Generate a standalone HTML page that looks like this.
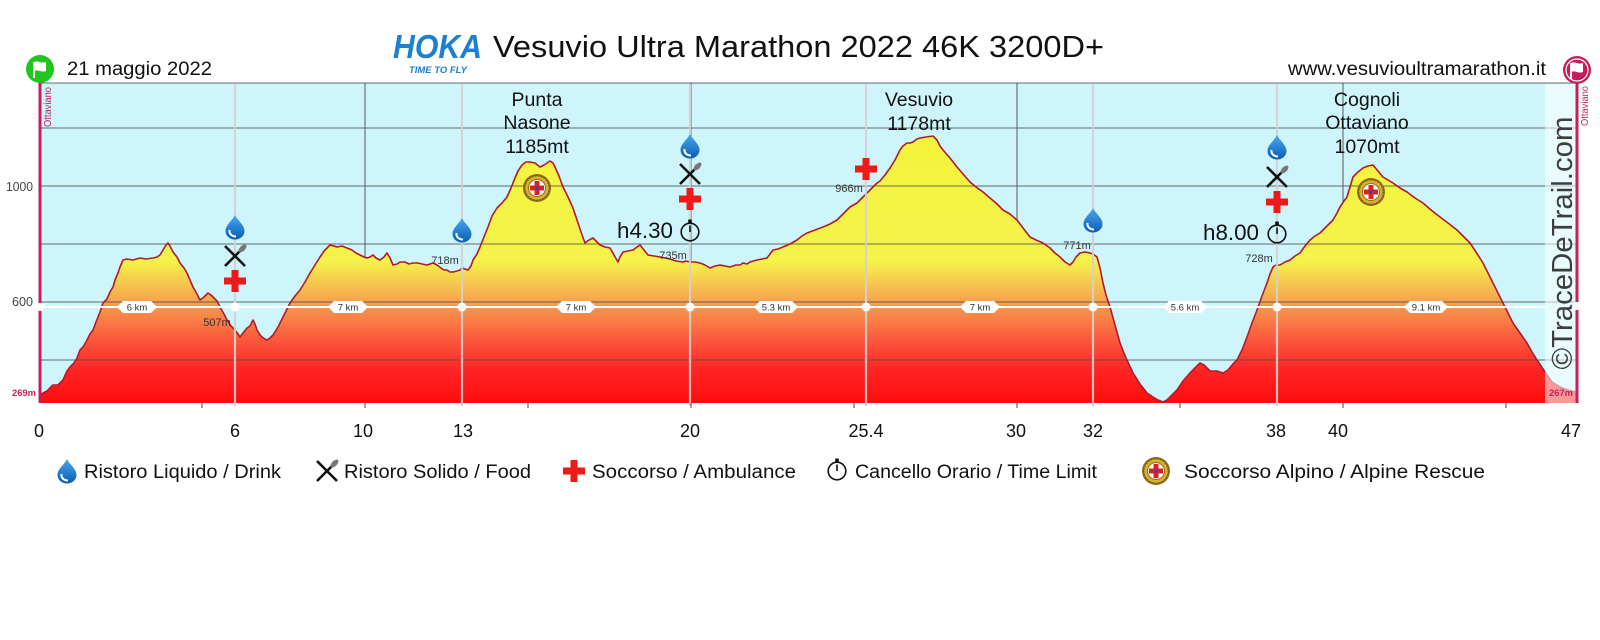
<!DOCTYPE html>
<html>
<head>
<meta charset="utf-8">
<style>
html,body{margin:0;padding:0;background:#fff;}
svg{display:block;}
text{font-family:"Liberation Sans",Arial,sans-serif;}
</style>
</head>
<body>
<svg width="1600" height="640" viewBox="0 0 1600 640" xmlns="http://www.w3.org/2000/svg">
<defs>
  <linearGradient id="fillg" gradientUnits="userSpaceOnUse" x1="0" y1="130" x2="0" y2="403">
    <stop offset="0" stop-color="#f4f43c"/>
    <stop offset="0.48" stop-color="#f5f34a"/>
    <stop offset="0.62" stop-color="#f7a64f"/>
    <stop offset="0.76" stop-color="#fb5c3e"/>
    <stop offset="0.88" stop-color="#ff2424"/>
    <stop offset="1" stop-color="#ff0c0c"/>
  </linearGradient>
  <linearGradient id="dropg" x1="0" y1="0" x2="0" y2="1">
    <stop offset="0" stop-color="#4aa8ec"/>
    <stop offset="1" stop-color="#0a5db5"/>
  </linearGradient>
  <g id="drop">
    <path d="M0,-12 C3,-6 9.5,-2 9.5,4 C9.5,9 5,12.5 0,12.5 C-5,12.5 -9.5,9 -9.5,4 C-9.5,-2 -3,-6 0,-12 Z" fill="url(#dropg)"/>
    <path d="M-5.5,3 C-6,7 -3,9.5 1,9.5" fill="none" stroke="#fff" stroke-width="2"/>
  </g>
  <g id="food">
    <line x1="-10" y1="-10" x2="10" y2="10" stroke="#111" stroke-width="2.6"/>
    <line x1="-10" y1="10" x2="5" y2="-5" stroke="#111" stroke-width="2.6"/>
    <ellipse cx="7.5" cy="-7.5" rx="2.6" ry="5" transform="rotate(45 7.5 -7.5)" fill="#777"/>
  </g>
  <g id="cross">
    <rect x="-11" y="-3.5" width="22" height="7" fill="#ee1a1a"/>
    <rect x="-3.5" y="-11" width="7" height="22" fill="#ee1a1a"/>
  </g>
  <g id="watch">
    <circle cx="0" cy="2" r="8.8" fill="none" stroke="#111" stroke-width="1.6"/>
    <rect x="-1.8" y="-10.5" width="3.6" height="3.5" fill="#111"/>
    <line x1="0" y1="2" x2="0" y2="-4.5" stroke="#111" stroke-width="1.6"/>
  </g>
  <g id="badge">
    <circle r="14" fill="#8a6a14"/>
    <circle r="12" fill="#d6b032"/>
    <circle r="12" fill="none" stroke="#7a5a10" stroke-width="1" stroke-dasharray="1.5 1.5"/>
    <circle r="8.5" fill="#fff" stroke="#9a7010" stroke-width="1"/>
    <rect x="-7" y="-2.5" width="14" height="5" fill="#e02020"/>
    <rect x="-2.5" y="-7" width="5" height="14" fill="#e02020"/>
    <path d="M-2.5,-1.5 L2.5,-1.5 L0,3 Z" fill="#2a4aa8"/>
  </g>
  <g id="hex">
    <polygon points="-20,0 -14,-6 14,-6 20,0 14,6 -14,6" fill="#fff"/>
  </g>
  <g id="hexw">
    <polygon points="-22,0 -16,-6 16,-6 22,0 16,6 -16,6" fill="#fff"/>
  </g>
</defs>

<rect x="0" y="0" width="1600" height="640" fill="#fff"/>

<!-- sky -->
<rect x="40" y="83" width="1536" height="320" fill="#cdf5fb"/>

<!-- vertical dark grid (behind fill) -->
<g stroke="#5a5a5a" stroke-width="1">
  <line x1="365" y1="83" x2="365" y2="403"/>
  <line x1="691" y1="83" x2="691" y2="403"/>
  <line x1="1017" y1="83" x2="1017" y2="403"/>
  <line x1="1343" y1="83" x2="1343" y2="403"/>
</g>

<!-- profile fill -->
<path fill="url(#fillg)" d="M40,396 L43,393 L47,391 L50,388 L53,385 L58,385 L60,383 L63,380 L67,371 L70,367 L74,363 L77,358 L80,350 L83,347 L86,342 L88,338 L90,334 L93,330 L96,322 L100,312 L103,303 L107,299 L110,292 L113,287 L115,280 L118,273 L120,267 L123,260 L127,259 L133,260 L140,258 L146,259 L153,258 L157,257 L160,255 L163,250 L166,245 L168,243 L170,246 L173,252 L177,257 L180,263 L184,268 L187,273 L190,280 L193,287 L197,294 L200,300 L204,297 L208,293 L211,295 L213,297 L217,301 L220,307 L224,314 L227,320 L231,326 L235,330 L238,334 L240,337 L243,333 L247,328 L250,326 L253,320 L255,324 L257,330 L260,335 L262,337 L265,339 L267,340 L270,338 L273,335 L278,327 L283,317 L287,309 L290,303 L295,296 L300,290 L305,282 L310,273 L315,265 L320,257 L325,250 L330,245 L334,246 L337,247 L342,246 L347,248 L352,250 L356,253 L360,255 L364,257 L367,258 L370,257 L373,255 L376,258 L380,260 L384,257 L387,253 L390,258 L393,265 L397,264 L400,262 L405,262 L409,264 L413,263 L418,263 L422,264 L427,265 L430,264 L433,263 L437,265 L441,268 L444,270 L447,270 L450,272 L453,272 L457,271 L460,270 L462,268 L465,269 L468,270 L471,266 L473,260 L477,254 L480,247 L484,237 L488,227 L492,216 L497,208 L502,203 L507,197 L511,188 L515,178 L518,171 L522,165 L526,162 L530,162 L535,163 L540,167 L544,165 L547,163 L550,161 L553,163 L555,167 L559,176 L563,187 L568,197 L573,208 L577,220 L581,232 L585,243 L589,240 L593,238 L597,242 L600,245 L605,247 L610,248 L614,255 L618,262 L620,257 L623,252 L628,251 L633,250 L637,247 L640,245 L644,250 L648,255 L654,256 L660,257 L665,258 L670,259 L676,261 L683,262 L686,261 L690,262 L695,262 L700,263 L705,265 L710,268 L715,266 L720,265 L725,266 L730,267 L736,265 L740,265 L743,263 L747,264 L750,262 L757,260 L762,259 L767,258 L770,254 L773,250 L778,249 L783,247 L790,244 L797,240 L802,236 L807,233 L815,230 L823,227 L830,224 L837,220 L843,214 L850,207 L857,203 L863,197 L867,193 L870,190 L873,187 L877,183 L880,181 L885,175 L890,168 L895,160 L900,150 L903,146 L907,143 L910,143 L913,142 L917,139 L920,138 L926,137 L933,136 L937,140 L940,146 L943,150 L950,158 L957,167 L963,174 L970,182 L976,187 L983,192 L990,198 L996,203 L1003,210 L1010,214 L1017,220 L1023,228 L1030,237 L1036,240 L1043,243 L1050,248 L1055,253 L1060,257 L1065,262 L1070,265 L1073,262 L1076,257 L1080,253 L1085,252 L1090,253 L1093,254 L1097,257 L1100,268 L1103,283 L1106,295 L1110,307 L1115,325 L1120,343 L1126,358 L1133,373 L1140,384 L1147,393 L1153,397 L1158,400 L1163,402 L1167,400 L1172,395 L1177,390 L1183,381 L1190,373 L1195,368 L1200,363 L1204,365 L1210,371 L1217,371 L1223,373 L1228,370 L1233,364 L1237,360 L1242,350 L1247,337 L1252,323 L1257,310 L1262,296 L1267,283 L1270,274 L1273,267 L1276,265 L1280,265 L1285,262 L1290,260 L1295,256 L1300,253 L1305,246 L1310,240 L1315,236 L1320,233 L1327,226 L1333,220 L1337,213 L1340,207 L1344,201 L1347,197 L1350,187 L1353,177 L1358,172 L1363,168 L1368,166 L1373,165 L1378,171 L1383,177 L1388,180 L1393,183 L1400,188 L1407,192 L1415,198 L1423,203 L1431,210 L1440,217 L1448,223 L1457,230 L1463,236 L1470,243 L1476,252 L1483,263 L1490,277 L1500,297 L1506,309 L1513,323 L1520,333 L1527,343 L1532,352 L1537,360 L1541,366 L1545,372 L1545,403 L40,403 Z"/>
<path d="M1545,372 L1552,382 L1560,387 L1568,390 L1576,392 L1576,403 L1545,403 Z" fill="#ff1a1a"/>

<!-- horizontal grid (over fill) -->
<g stroke="#4a4a4a" stroke-width="1" opacity="0.8">
  <line x1="40" y1="83" x2="1576" y2="83"/>
  <line x1="40" y1="128" x2="1576" y2="128"/>
  <line x1="40" y1="186" x2="1576" y2="186"/>
  <line x1="40" y1="244" x2="1576" y2="244"/>
  <line x1="40" y1="302" x2="1576" y2="302"/>
  <line x1="40" y1="360" x2="1576" y2="360"/>
</g>

<!-- profile line -->
<path d="M40,396 L43,393 L47,391 L50,388 L53,385 L58,385 L60,383 L63,380 L67,371 L70,367 L74,363 L77,358 L80,350 L83,347 L86,342 L88,338 L90,334 L93,330 L96,322 L100,312 L103,303 L107,299 L110,292 L113,287 L115,280 L118,273 L120,267 L123,260 L127,259 L133,260 L140,258 L146,259 L153,258 L157,257 L160,255 L163,250 L166,245 L168,243 L170,246 L173,252 L177,257 L180,263 L184,268 L187,273 L190,280 L193,287 L197,294 L200,300 L204,297 L208,293 L211,295 L213,297 L217,301 L220,307 L224,314 L227,320 L231,326 L235,330 L238,334 L240,337 L243,333 L247,328 L250,326 L253,320 L255,324 L257,330 L260,335 L262,337 L265,339 L267,340 L270,338 L273,335 L278,327 L283,317 L287,309 L290,303 L295,296 L300,290 L305,282 L310,273 L315,265 L320,257 L325,250 L330,245 L334,246 L337,247 L342,246 L347,248 L352,250 L356,253 L360,255 L364,257 L367,258 L370,257 L373,255 L376,258 L380,260 L384,257 L387,253 L390,258 L393,265 L397,264 L400,262 L405,262 L409,264 L413,263 L418,263 L422,264 L427,265 L430,264 L433,263 L437,265 L441,268 L444,270 L447,270 L450,272 L453,272 L457,271 L460,270 L462,268 L465,269 L468,270 L471,266 L473,260 L477,254 L480,247 L484,237 L488,227 L492,216 L497,208 L502,203 L507,197 L511,188 L515,178 L518,171 L522,165 L526,162 L530,162 L535,163 L540,167 L544,165 L547,163 L550,161 L553,163 L555,167 L559,176 L563,187 L568,197 L573,208 L577,220 L581,232 L585,243 L589,240 L593,238 L597,242 L600,245 L605,247 L610,248 L614,255 L618,262 L620,257 L623,252 L628,251 L633,250 L637,247 L640,245 L644,250 L648,255 L654,256 L660,257 L665,258 L670,259 L676,261 L683,262 L686,261 L690,262 L695,262 L700,263 L705,265 L710,268 L715,266 L720,265 L725,266 L730,267 L736,265 L740,265 L743,263 L747,264 L750,262 L757,260 L762,259 L767,258 L770,254 L773,250 L778,249 L783,247 L790,244 L797,240 L802,236 L807,233 L815,230 L823,227 L830,224 L837,220 L843,214 L850,207 L857,203 L863,197 L867,193 L870,190 L873,187 L877,183 L880,181 L885,175 L890,168 L895,160 L900,150 L903,146 L907,143 L910,143 L913,142 L917,139 L920,138 L926,137 L933,136 L937,140 L940,146 L943,150 L950,158 L957,167 L963,174 L970,182 L976,187 L983,192 L990,198 L996,203 L1003,210 L1010,214 L1017,220 L1023,228 L1030,237 L1036,240 L1043,243 L1050,248 L1055,253 L1060,257 L1065,262 L1070,265 L1073,262 L1076,257 L1080,253 L1085,252 L1090,253 L1093,254 L1097,257 L1100,268 L1103,283 L1106,295 L1110,307 L1115,325 L1120,343 L1126,358 L1133,373 L1140,384 L1147,393 L1153,397 L1158,400 L1163,402 L1167,400 L1172,395 L1177,390 L1183,381 L1190,373 L1195,368 L1200,363 L1204,365 L1210,371 L1217,371 L1223,373 L1228,370 L1233,364 L1237,360 L1242,350 L1247,337 L1252,323 L1257,310 L1262,296 L1267,283 L1270,274 L1273,267 L1276,265 L1280,265 L1285,262 L1290,260 L1295,256 L1300,253 L1305,246 L1310,240 L1315,236 L1320,233 L1327,226 L1333,220 L1337,213 L1340,207 L1344,201 L1347,197 L1350,187 L1353,177 L1358,172 L1363,168 L1368,166 L1373,165 L1378,171 L1383,177 L1388,180 L1393,183 L1400,188 L1407,192 L1415,198 L1423,203 L1431,210 L1440,217 L1448,223 L1457,230 L1463,236 L1470,243 L1476,252 L1483,263 L1490,277 L1500,297 L1506,309 L1513,323 L1520,333 L1527,343 L1532,352 L1537,360 L1541,366 L1545,372 L1552,382 L1560,387 L1568,390 L1576,392" fill="none" stroke="#b01a2e" stroke-width="1.6" stroke-linejoin="round"/>

<!-- pale overlay after finish -->
<rect x="1545" y="84" width="31" height="319" fill="#ffffff" opacity="0.55"/>

<!-- checkpoint vertical lines -->
<g stroke="#d2d2d2" stroke-width="2.2" opacity="0.9">
  <line x1="235" y1="84" x2="235" y2="406"/>
  <line x1="462" y1="84" x2="462" y2="406"/>
  <line x1="690" y1="84" x2="690" y2="406"/>
  <line x1="866" y1="84" x2="866" y2="406"/>
  <line x1="1093" y1="84" x2="1093" y2="406"/>
  <line x1="1277" y1="84" x2="1277" y2="406"/>
</g>

<!-- white distance line -->
<line x1="40" y1="307" x2="1545" y2="307" stroke="#fff" stroke-width="2"/>
<g fill="#fff">
  <circle cx="40" cy="307" r="4.5"/>
  <circle cx="235" cy="307" r="4.5"/>
  <circle cx="462" cy="307" r="4.5"/>
  <circle cx="690" cy="307" r="4.5"/>
  <circle cx="866" cy="307" r="4.5"/>
  <circle cx="1093" cy="307" r="4.5"/>
  <circle cx="1277" cy="307" r="4.5"/>
</g>
<use href="#hex" x="137" y="307"/>
<use href="#hex" x="348" y="307"/>
<use href="#hex" x="576" y="307"/>
<use href="#hexw" x="776" y="307"/>
<use href="#hex" x="980" y="307"/>
<use href="#hexw" x="1185" y="307"/>
<use href="#hexw" x="1426" y="307"/>
<g font-size="9.5" fill="#333" text-anchor="middle">
  <text x="137" y="310.5">6 km</text>
  <text x="348" y="310.5">7 km</text>
  <text x="576" y="310.5">7 km</text>
  <text x="776" y="310.5">5.3 km</text>
  <text x="980" y="310.5">7 km</text>
  <text x="1185" y="310.5">5.6 km</text>
  <text x="1426" y="310.5">9.1 km</text>
</g>

<!-- bottom ticks -->
<g stroke="#444" stroke-width="1">
  <line x1="202" y1="403" x2="202" y2="408"/>
  <line x1="365" y1="403" x2="365" y2="408"/>
  <line x1="528" y1="403" x2="528" y2="408"/>
  <line x1="691" y1="403" x2="691" y2="408"/>
  <line x1="854" y1="403" x2="854" y2="408"/>
  <line x1="1017" y1="403" x2="1017" y2="408"/>
  <line x1="1180" y1="403" x2="1180" y2="408"/>
  <line x1="1343" y1="403" x2="1343" y2="408"/>
  <line x1="1506" y1="403" x2="1506" y2="408"/>
</g>

<!-- crimson side lines -->
<line x1="40" y1="69" x2="40" y2="403" stroke="#c41f5c" stroke-width="3"/>
<line x1="1577" y1="69" x2="1577" y2="403" stroke="#c41f5c" stroke-width="3"/>
<circle cx="40" cy="307" r="4" fill="#fff"/>
<rect x="1574" y="302" width="6" height="8" fill="#fff"/>

<!-- flags -->
<circle cx="40" cy="69" r="14" fill="#22c51f"/>
<line x1="34" y1="62" x2="34" y2="78" stroke="#fff" stroke-width="1.8"/>
<path d="M34,62 C38,60 41,64 46,62 L46,71 C41,73 38,69 34,71 Z" fill="#fff"/>
<circle cx="1577" cy="70" r="14" fill="#c41f5c"/>
<circle cx="1577" cy="70" r="11" fill="none" stroke="#fff" stroke-width="1.2"/>
<line x1="1571" y1="63" x2="1571" y2="79" stroke="#fff" stroke-width="1.8"/>
<path d="M1571,63 C1575,61 1578,65 1583,63 L1583,72 C1578,74 1575,70 1571,72 Z" fill="#fff"/>

<!-- Ottaviano labels -->
<text transform="translate(51,127) rotate(-90)" font-size="10" fill="#c41f5c" textLength="40" lengthAdjust="spacingAndGlyphs">Ottaviano</text>
<text transform="translate(1588,126) rotate(-90)" font-size="10" fill="#c41f5c" textLength="40" lengthAdjust="spacingAndGlyphs">Ottaviano</text>

<!-- TraceDeTrail -->
<text transform="translate(1572,243) rotate(-90)" font-size="29" fill="#3d3d3d" text-anchor="middle" textLength="253" lengthAdjust="spacingAndGlyphs">©TraceDeTrail.com</text>

<!-- y labels -->
<g font-size="13" fill="#444">
  <text x="6" y="191" textLength="27" lengthAdjust="spacingAndGlyphs">1000</text>
  <text x="12" y="306" textLength="21" lengthAdjust="spacingAndGlyphs">600</text>
</g>
<text x="12" y="396" font-size="9.5" font-weight="bold" fill="#c41f5c" textLength="24" lengthAdjust="spacingAndGlyphs">269m</text>
<text x="1549" y="396" font-size="9.5" font-weight="bold" fill="#c41f5c" textLength="24" lengthAdjust="spacingAndGlyphs">267m</text>

<!-- small elevation labels -->
<g font-size="11" fill="#333" text-anchor="middle">
  <text x="217" y="326">507m</text>
  <text x="445" y="264">718m</text>
  <text x="673" y="259">735m</text>
  <text x="849" y="192">966m</text>
  <text x="1077" y="249">771m</text>
  <text x="1259" y="262">728m</text>
</g>

<!-- peak labels -->
<g font-size="19.5" fill="#111" text-anchor="middle">
  <text x="537" y="106">Punta</text>
  <text x="537" y="129">Nasone</text>
  <text x="537" y="153">1185mt</text>
  <text x="919" y="106">Vesuvio</text>
  <text x="919" y="130">1178mt</text>
  <text x="1367" y="106">Cognoli</text>
  <text x="1367" y="129">Ottaviano</text>
  <text x="1367" y="153">1070mt</text>
</g>

<!-- badges on peaks -->
<use href="#badge" x="537" y="188"/>
<use href="#badge" x="1371" y="192"/>

<!-- checkpoint icons -->
<use href="#drop" x="235" y="227"/>
<use href="#food" x="235" y="256"/>
<use href="#cross" x="235" y="281"/>

<use href="#drop" x="462" y="230"/>

<use href="#drop" x="690" y="146"/>
<use href="#food" x="690" y="174"/>
<use href="#cross" x="690" y="199"/>
<use href="#watch" x="690" y="230"/>
<text x="673" y="238" font-size="22" fill="#111" text-anchor="end" textLength="56" lengthAdjust="spacingAndGlyphs">h4.30</text>

<use href="#cross" x="866" y="169"/>

<use href="#drop" x="1093" y="220"/>

<use href="#drop" x="1277" y="147"/>
<use href="#food" x="1277" y="177"/>
<use href="#cross" x="1277" y="202"/>
<use href="#watch" x="1277" y="232"/>
<text x="1259" y="240" font-size="22" fill="#111" text-anchor="end" textLength="56" lengthAdjust="spacingAndGlyphs">h8.00</text>

<!-- x axis labels -->
<g font-size="18" fill="#111" text-anchor="middle">
  <text x="39" y="437">0</text>
  <text x="235" y="437">6</text>
  <text x="363" y="437">10</text>
  <text x="463" y="437">13</text>
  <text x="690" y="437">20</text>
  <text x="866" y="437">25.4</text>
  <text x="1016" y="437">30</text>
  <text x="1093" y="437">32</text>
  <text x="1276" y="437">38</text>
  <text x="1338" y="437">40</text>
  <text x="1571" y="437">47</text>
</g>

<!-- header -->
<text x="393" y="58" font-size="33" font-weight="bold" font-style="italic" fill="#1b7fd3" textLength="89" lengthAdjust="spacingAndGlyphs">HOKA</text>
<text x="409" y="73" font-size="9.5" font-weight="bold" font-style="italic" fill="#1b7fd3" textLength="58" lengthAdjust="spacingAndGlyphs">TIME TO FLY</text>
<text x="493" y="57" font-size="31" fill="#111" textLength="611" lengthAdjust="spacingAndGlyphs">Vesuvio Ultra Marathon 2022 46K 3200D+</text>
<text x="67" y="75" font-size="19" fill="#111" textLength="145" lengthAdjust="spacingAndGlyphs">21 maggio 2022</text>
<text x="1288" y="75" font-size="19" fill="#111" textLength="258" lengthAdjust="spacingAndGlyphs">www.vesuvioultramarathon.it</text>

<!-- legend -->
<use href="#drop" x="67" y="471"/>
<text x="84" y="478" font-size="19" fill="#111" textLength="197" lengthAdjust="spacingAndGlyphs">Ristoro Liquido / Drink</text>
<use href="#food" x="327" y="471"/>
<text x="344" y="478" font-size="19" fill="#111" textLength="187" lengthAdjust="spacingAndGlyphs">Ristoro Solido / Food</text>
<use href="#cross" x="574" y="471"/>
<text x="592" y="478" font-size="19" fill="#111" textLength="204" lengthAdjust="spacingAndGlyphs">Soccorso / Ambulance</text>
<use href="#watch" x="837" y="469"/>
<text x="855" y="478" font-size="19" fill="#111" textLength="242" lengthAdjust="spacingAndGlyphs">Cancello Orario / Time Limit</text>
<use href="#badge" x="1156" y="471"/>
<text x="1184" y="478" font-size="19" fill="#111" textLength="301" lengthAdjust="spacingAndGlyphs">Soccorso Alpino / Alpine Rescue</text>
</svg>
</body>
</html>
